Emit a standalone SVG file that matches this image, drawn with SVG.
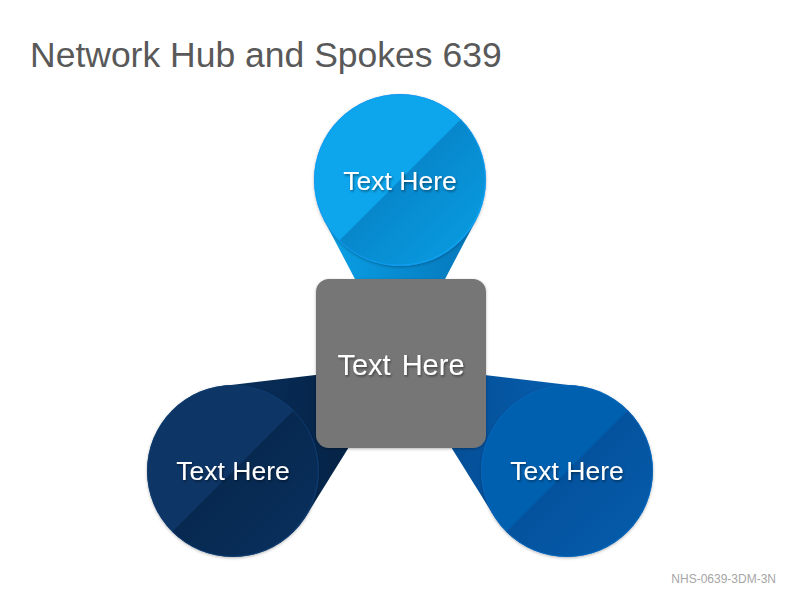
<svg xmlns="http://www.w3.org/2000/svg" width="800" height="600" viewBox="0 0 800 600">
  <defs>
    <style>
      .title { font-family: "Liberation Sans", Arial, sans-serif; font-size: 35.5px; fill: #595959; }
      .footer { font-family: "Liberation Sans", Arial, sans-serif; font-size: 12px; fill: #A6A6A6; }
      .label { font-family: "Liberation Sans", Arial, sans-serif; font-size: 26.5px; fill: #FFFFFF; text-anchor: middle; }
      .hublabel { font-family: "Liberation Sans", Arial, sans-serif; font-size: 29px; fill: #FFFFFF; text-anchor: middle; word-spacing: 3px; }
    </style>
    <filter id="shadow" x="-20%" y="-20%" width="140%" height="140%">
      <feDropShadow dx="0" dy="1" stdDeviation="1.5" flood-color="#000000" flood-opacity="0.3"/>
    </filter>
    <filter id="txtshadow" x="-10%" y="-30%" width="120%" height="160%">
      <feDropShadow dx="1" dy="1.5" stdDeviation="1" flood-color="#000000" flood-opacity="0.45"/>
    </filter>
    <linearGradient id="tailTop" x1="0" y1="0" x2="1" y2="0">
      <stop offset="0" stop-color="#0AA0E6"/>
      <stop offset="1" stop-color="#0576BA"/>
    </linearGradient>
    <linearGradient id="tailLeft" x1="0" y1="0" x2="1" y2="0">
      <stop offset="0" stop-color="#08305E"/>
      <stop offset="1" stop-color="#041D3B"/>
    </linearGradient>
    <linearGradient id="tailRight" x1="1" y1="0" x2="0" y2="0">
      <stop offset="0" stop-color="#0660B0"/>
      <stop offset="1" stop-color="#04478C"/>
    </linearGradient>
    <linearGradient id="halfTop" gradientUnits="userSpaceOnUse" x1="400" y1="180" x2="461" y2="241">
      <stop offset="0" stop-color="#0787CC"/>
      <stop offset="1" stop-color="#0998DD"/>
    </linearGradient>
    <linearGradient id="halfLeft" gradientUnits="userSpaceOnUse" x1="233" y1="471" x2="294" y2="532">
      <stop offset="0" stop-color="#072950"/>
      <stop offset="1" stop-color="#082E5A"/>
    </linearGradient>
    <linearGradient id="halfRight" gradientUnits="userSpaceOnUse" x1="567" y1="471" x2="628" y2="532">
      <stop offset="0" stop-color="#04529E"/>
      <stop offset="1" stop-color="#055AA8"/>
    </linearGradient>
  </defs>

  <rect x="0" y="0" width="800" height="600" fill="#FFFFFF"/>

  <text class="title" x="30" y="67">Network Hub and Spokes 639</text>

  <g id="connectors">
    <polygon points="324,220 476,220 400,365" fill="url(#tailTop)"/>
    <polygon points="223,386 306,516 400,365" fill="url(#tailLeft)"/>
    <polygon points="577,386 494,516 400,365" fill="url(#tailRight)"/>
  </g>

  <g id="node-top">
    <g filter="url(#shadow)">
      <circle cx="400" cy="180" r="86" fill="#0BA5EC"/>
    </g>
    <path d="M339.2,240.8 A86,86 0 0 0 460.8,119.2 Z" fill="url(#halfTop)"/>
    <circle cx="400" cy="180" r="85.5" fill="none" stroke="#1596F2" stroke-width="1" opacity="0.8"/>
    <text class="label" x="400" y="190" filter="url(#txtshadow)">Text Here</text>
  </g>

  <g id="node-left">
    <g filter="url(#shadow)">
      <circle cx="233" cy="471" r="86" fill="#0B3566"/>
    </g>
    <path d="M172.2,531.8 A86,86 0 0 0 293.8,410.2 Z" fill="url(#halfLeft)"/>
    <circle cx="233" cy="471" r="85.5" fill="none" stroke="#0E3C70" stroke-width="1" opacity="0.8"/>
    <text class="label" x="233" y="480" filter="url(#txtshadow)">Text Here</text>
  </g>

  <g id="node-right">
    <g filter="url(#shadow)">
      <circle cx="567" cy="471" r="86" fill="#0660B0"/>
    </g>
    <path d="M506.2,531.8 A86,86 0 0 0 627.8,410.2 Z" fill="url(#halfRight)"/>
    <circle cx="567" cy="471" r="85.5" fill="none" stroke="#0A66BC" stroke-width="1" opacity="0.8"/>
    <text class="label" x="567" y="480" filter="url(#txtshadow)">Text Here</text>
  </g>

  <g id="node-hub">
    <rect x="316" y="279" width="170" height="169" rx="13" ry="13" fill="#767676" filter="url(#shadow)"/>
    <text class="hublabel" x="401" y="375" filter="url(#txtshadow)">Text Here</text>
  </g>

  <text class="footer" x="776" y="583" text-anchor="end">NHS-0639-3DM-3N</text>
</svg>
